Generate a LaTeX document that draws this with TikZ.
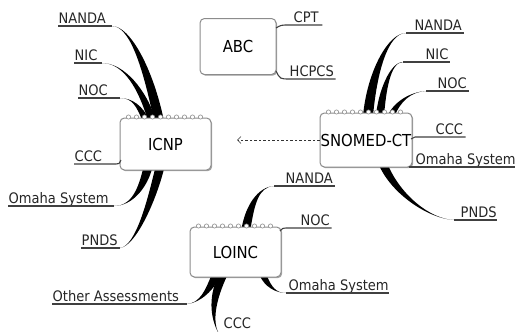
\documentclass[tikz,border=0pt]{standalone}
\usepackage{fontspec}
\setmainfont{DejaVu Sans Condensed}
\usetikzlibrary{calc,arrows.meta,shadows}
\pgfdeclarelayer{bg}
\pgfdeclarelayer{paper}
\pgfsetlayers{paper,bg,main}

% tapered branch: tip, two control points, base point on a topic, half-width offset
\newcommand\taper[5]{%
  \fill[branch] (#1) .. controls (#2) and ($(#3)+(#5)$) .. ($(#4)+(#5)$)
    -- ($(#4)-(#5)$) .. controls ($(#3)-(#5)$) and (#2) .. (#1);}
% spiral binding on the top edge of a topic
\newcommand\binding[1]{%
  \foreach \i in {0,...,9}
    \draw[bind] ($(#1.north west)+(9+8*\i,-0.5)$) circle (2.1);}

\tikzset{
  topic/.style={draw=black!45, line width=1pt, rounded corners=4.5pt, fill=white,
    drop shadow={shadow xshift=1.2pt, shadow yshift=-1.2pt, opacity=0.35, fill=black},
    font=\fontsize{16.5}{18}\selectfont, inner sep=0pt},
  lbl/.style={anchor=base west, inner sep=0.5pt, font=\fontsize{14.5}{16}\selectfont, text=black!85},
  uline/.style={draw=black!75, line width=1.1pt},
  thin/.style={draw=black!75, line width=1.1pt},
  branch/.style={fill=black},
  bind/.style={draw=black!45, line width=0.6pt, fill=white},
  link/.style={draw=black!80, line width=0.6pt, dash pattern=on 2.5pt off 2pt,
    -{Straight Barb[length=3.5pt,width=7pt]}}
}

\begin{document}
\begin{tikzpicture}[x=1pt,y=-1pt]
\useasboundingbox (0,0) rectangle (515,332);
\begin{pgfonlayer}{paper}
\fill[white] (0,0) rectangle (515,332);
\end{pgfonlayer}

% ---- topics ----
\node[topic, minimum width=91pt, minimum height=52pt] (icnp) at (165.5,144) {ICNP};
\node[topic, minimum width=92pt, minimum height=54pt] (snomed) at (366,140) {SNOMED-CT};
\node[topic, minimum width=91pt, minimum height=50pt] (loinc) at (235.5,252) {LOINC};
\node[topic, minimum width=76pt, minimum height=56pt] (abc) at (238,46.5) {ABC};
\binding{icnp}
\binding{snomed}
\binding{loinc}

% ---- ICNP subtopics ----
\node[lbl] (iNanda) at (58,23.5) {NANDA};
\node[lbl] (iNic) at (74,60.5) {NIC};
\node[lbl] (iNoc) at (78,95.5) {NOC};
\node[lbl] (iCcc) at (74,161.5) {CCC};
\node[lbl] (iOmaha) at (8,203.5) {Omaha System};
\node[lbl] (iPnds) at (81,245.5) {PNDS};
\coordinate (iNandaT) at (112,26);
\coordinate (iNicT) at (102,63);
\coordinate (iNocT) at (120,98);
\coordinate (iCccT) at (116,164);
\coordinate (iOmahaT) at (114,206);
\coordinate (iPndsT) at (120,248);
\coordinate (iNandaB) at (159,121);
\coordinate (iNicB) at (152,121);
\coordinate (iNocB) at (146,121);
\coordinate (iCccB) at (121,160);
\coordinate (iOmahaB) at (148,167);
\coordinate (iPndsB) at (160,167);
\begin{pgfonlayer}{bg}
\taper{iNandaT}{130,26}{148,68}{iNandaB}{5,0}
\taper{iNicT}{124,63}{143,90}{iNicB}{4,0}
\taper{iNocT}{132,98}{140,106}{iNocB}{3.5,0}
\taper{iOmahaT}{132,206}{143,188}{iOmahaB}{4.5,0}
\taper{iPndsT}{136,246}{152,200}{iPndsB}{4.5,0}
\end{pgfonlayer}
\draw[uline] (iNandaT) -- (iNandaT -| iNanda.west);
\draw[uline] (iNicT) -- (iNicT -| iNic.west);
\draw[uline] (iNocT) -- (iNocT -| iNoc.west);
\draw[uline] (iCccB) .. controls (119,164) .. (iCccT) -- (iCccT -| iCcc.west);
\draw[uline] (iOmahaT) -- (iOmahaT -| iOmaha.west);
\draw[uline] (iPndsT) -- (iPndsT -| iPnds.west);

% ---- ABC subtopics ----
\node[lbl] (aCpt) at (293,22.5) {CPT};
\node[lbl] (aHcpcs) at (289,76.5) {HCPCS};
\coordinate (aCptB) at (276,28);
\coordinate (aCptT) at (290,25);
\coordinate (aHcpcsB) at (276,71);
\coordinate (aHcpcsT) at (290,79);
\draw[thin] (aCptB) .. controls (281,25) .. (aCptT) -- ([xshift=3pt]aCptT -| aCpt.east);
\draw[thin] (aHcpcsB) .. controls (280,79) .. (aHcpcsT) -- ([xshift=1pt]aHcpcsT -| aHcpcs.east);

% ---- SNOMED-CT subtopics ----
\node[lbl] (sNanda) at (414,30.5) {NANDA};
\node[lbl] (sNic) at (425,59.5) {NIC};
\node[lbl] (sNoc) at (437,88.5) {NOC};
\node[lbl] (sCcc) at (435,134.5) {CCC};
\node[lbl] (sOmaha) at (415,164.5) {Omaha System};
\node[lbl] (sPnds) at (460,217.5) {PNDS};
\coordinate (sNandaT) at (406,33);
\coordinate (sNicT) at (403,62);
\coordinate (sNocT) at (426,91);
\coordinate (sCccB) at (411,139);
\coordinate (sCccT) at (415,137);
\coordinate (sOmahaT) at (409,167);
\coordinate (sPndsT) at (454,220);
\coordinate (sNandaB) at (368,116);
\coordinate (sNicB) at (380,116);
\coordinate (sNocB) at (391,116);
\coordinate (sPndsB) at (383,164);
\begin{pgfonlayer}{bg}
\taper{sNandaT}{388,33}{372,72}{sNandaB}{5,0}
\taper{sNicT}{390,62}{382,92}{sNicB}{4,0}
\taper{sNocT}{410,92}{397,102}{sNocB}{3.5,0}
\taper{sPndsT}{430,219}{396,195}{sPndsB}{4.5,0}
\end{pgfonlayer}
\draw[uline] (sNandaT) -- ([xshift=1pt]sNandaT -| sNanda.east);
\draw[uline] (sNicT) -- ([xshift=1pt]sNicT -| sNic.east);
\draw[uline] (sNocT) -- ([xshift=1pt]sNocT -| sNoc.east);
\draw[uline] (sCccB) -- (sCccT) -- ([xshift=2pt]sCccT -| sCcc.east);
\draw[uline] (sOmahaT) -- (sOmahaT -| sOmaha.east);
\draw[uline] (sPndsT) -- (sPndsT -| sPnds.east);

% ---- LOINC subtopics ----
\node[lbl] (lNanda) at (285,183.5) {NANDA};
\node[lbl] (lNoc) at (300,225.5) {NOC};
\node[lbl] (lOmaha) at (288,290.5) {Omaha System};
\node[lbl] (lOther) at (52,301.5) {Other Assessments};
\node[lbl] (lCcc) at (223,328.5) {CCC};
\coordinate (lNandaT) at (274,186);
\coordinate (lNocB) at (280,231);
\coordinate (lNocT) at (286,228);
\coordinate (lOmahaT) at (286,293);
\coordinate (lOtherT) at (187,304);
\coordinate (lCccT) at (219,334);
\coordinate (lNandaB) at (246,229);
\coordinate (lOmahaB) at (263,275);
\coordinate (lOtherB) at (216,275);
\coordinate (lCccB) at (223,275);
\begin{pgfonlayer}{bg}
\taper{lNandaT}{258,187}{250,205}{lNandaB}{4.5,0}
\taper{lOmahaT}{276,293}{268,287}{lOmahaB}{3.5,0}
\taper{lOtherT}{200,303}{210,290}{lOtherB}{4.5,0}
\taper{lCccT}{212,322}{211,300}{lCccB}{4.5,0}
\end{pgfonlayer}
\draw[uline] (lNandaT) -- ([xshift=1pt]lNandaT -| lNanda.east);
\draw[uline] (lNocB) .. controls (283,228) .. (lNocT) -- ([xshift=1pt]lNocT -| lNoc.east);
\draw[uline] (lOmahaT) -- (lOmahaT -| lOmaha.east);
\draw[uline] (lOtherT) -- (lOtherT -| lOther.west);
\draw[uline] (lCccT) -- (lCccT -| lCcc.east);

% ---- relationship ----
\coordinate (relEnd) at (237,140);
\draw[link] (snomed.west) -- (relEnd);
\end{tikzpicture}
\end{document}
